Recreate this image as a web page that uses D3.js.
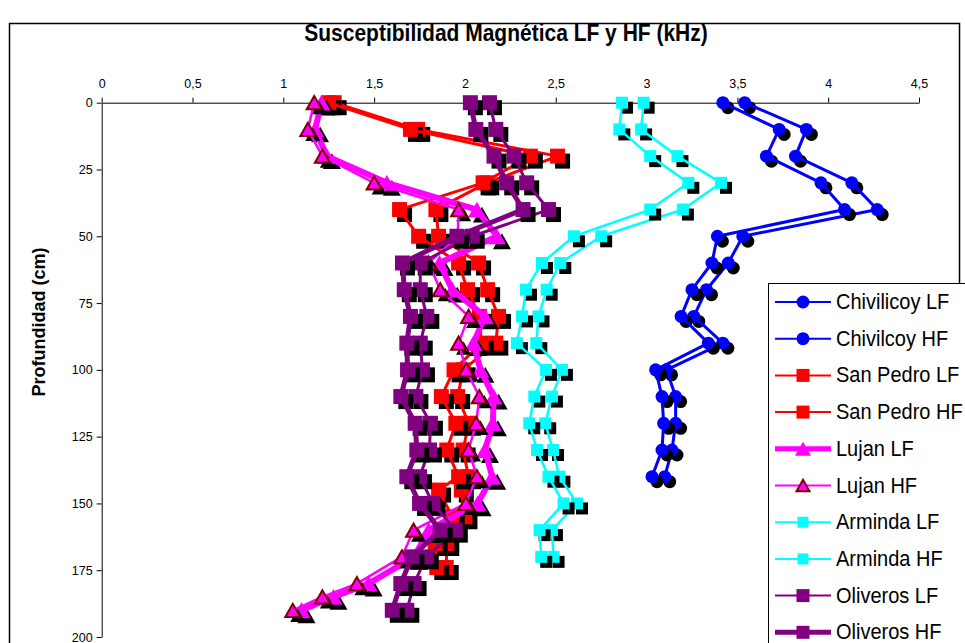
<!DOCTYPE html>
<html>
<head>
<meta charset="utf-8">
<script src="https://cdn.jsdelivr.net/npm/d3@7"></script>
<style>
  body { margin: 0; background: #fff; }
  svg { display: block; font-family: "Liberation Sans", Arial, sans-serif; }
</style>
</head>
<body>
<script>
// depths in cm for each site
var depthChiv = [0,10,20,30,40,50,60,70,80,90,100,110,120,130,140];
var depthSanPedro = [0,10,20,30,40,50,60,70,80,90,100,110,120,130,140,145,155,165,174];
var depthLujan = [0,10,20,30,40,50,60,70,80,90,100,110,120,130,140,150,160,170,180,185,190];
var depthArminda = [0,10,20,30,40,50,60,70,80,90,100,110,120,130,140,150,160,170];
var depthOliveros = [0,10,20,30,40,50,60,70,80,90,100,110,120,130,140,150,160,170,180,190];

// susceptibility values
var chivLF = [3.54,3.88,3.82,4.13,4.27,3.53,3.45,3.33,3.26,3.42,3.11,3.16,3.16,3.14,3.10];
var chivHF = [3.42,3.73,3.66,3.96,4.09,3.39,3.36,3.25,3.19,3.34,3.05,3.085,3.094,3.085,3.03];
var sanPedroLF = [1.28,1.74,2.51,2.12,1.84,1.855,2.075,2.125,2.185,2.17,1.99,1.96,2.02,1.99,2.02,1.98,2.0,1.90,1.897];
var sanPedroHF = [1.25,1.70,2.36,2.10,1.64,1.745,1.965,2.014,2.08,2.09,1.94,1.87,1.95,1.90,1.965,1.855,1.93,1.836,1.845];
var lujanLF = [1.21,1.175,1.24,1.57,2.066,2.176,1.86,1.93,2.11,2.047,2.085,2.158,2.154,2.11,2.15,2.07,1.80,1.72,1.47,1.276,1.10];
var lujanHF = [1.17,1.135,1.215,1.50,1.965,1.96,1.80,1.864,2.02,1.965,2.007,2.079,2.062,2.02,2.066,2.005,1.717,1.653,1.405,1.215,1.052];
var armindaLF = [2.984,2.97,3.17,3.41,3.20,2.75,2.525,2.45,2.405,2.393,2.534,2.479,2.442,2.485,2.52,2.617,2.479,2.488];
var armindaHF = [2.865,2.85,3.02,3.23,3.02,2.60,2.424,2.336,2.314,2.286,2.446,2.382,2.354,2.397,2.46,2.543,2.411,2.42];
var oliverosLF = [2.135,2.17,2.27,2.34,2.46,2.04,1.754,1.754,1.79,1.754,1.766,1.73,1.81,1.805,1.75,1.824,1.947,1.787,1.72,1.68];
var oliverosHF = [2.03,2.06,2.16,2.23,2.32,1.956,1.656,1.666,1.70,1.68,1.684,1.647,1.726,1.735,1.68,1.75,1.864,1.708,1.647,1.60];

var xTicks = [0,0.5,1,1.5,2,2.5,3,3.5,4,4.5];
var yTicks = [0,25,50,75,100,125,150,175,200];

var series = [
  {name:"Chivilicoy LF", depth:depthChiv, vals:chivLF, color:"#0000ff", lw:3, mark:"circle", size:13, edge:"#0000ff", legLw:2},
  {name:"Chivilcoy HF", depth:depthChiv, vals:chivHF, color:"#0000ff", lw:3, mark:"circle", size:13, edge:"#0000ff", legLw:2},
  {name:"San Pedro LF", depth:depthSanPedro, vals:sanPedroLF, color:"#ff0000", lw:3, mark:"square", size:15, edge:"#ff0000", legLw:2},
  {name:"San Pedro HF", depth:depthSanPedro, vals:sanPedroHF, color:"#ff0000", lw:3, mark:"square", size:15, edge:"#ff0000", legLw:2},
  {name:"Lujan LF", depth:depthLujan, vals:lujanLF, color:"#ff00ff", lw:6, mark:"tri", size:18, edge:"#ff00ff", legLw:5},
  {name:"Lujan HF", depth:depthLujan, vals:lujanHF, color:"#ff00ff", lw:2.5, mark:"tri", size:15, edge:"#800000", legLw:2},
  {name:"Arminda LF", depth:depthArminda, vals:armindaLF, color:"#00ffff", lw:2.5, mark:"square", size:12, edge:"#00ffff", legLw:2},
  {name:"Arminda HF", depth:depthArminda, vals:armindaHF, color:"#00ffff", lw:2.5, mark:"square", size:12, edge:"#00ffff", legLw:2},
  {name:"Oliveros LF", depth:depthOliveros, vals:oliverosLF, color:"#800080", lw:3, mark:"square", size:15, edge:"#800080", legLw:2},
  {name:"Oliveros HF", depth:depthOliveros, vals:oliverosHF, color:"#800080", lw:5, mark:"square", size:15, edge:"#800080", legLw:5}
];

var svg = d3.select("body").append("svg").attr("width", 965).attr("height", 643);

// chart border
svg.append("rect")
  .attr("x", 9.5).attr("y", 23.5).attr("width", 950).attr("height", 700)
  .attr("fill", "white").attr("stroke", "black").attr("stroke-width", 1.5);

var x = d3.scaleLinear().domain([0, 4.5]).range([101.7, 919]);
var y = d3.scaleLinear().domain([0, 200]).range([102.7, 637]);

function markerPath(type, s) {
  if (type == "circle") return d3.symbol(d3.symbolCircle, Math.PI * s * s / 4)();
  if (type == "square") return d3.symbol(d3.symbolSquare, s * s)();
  var h = s * 0.88;
  return "M0," + (-h / 2) + "L" + (s / 2) + "," + (h / 2) + "L" + (-s / 2) + "," + (h / 2) + "Z";
}

// text in the original is slightly stretched vertically
svg.append("text")
  .attr("transform", "translate(506,41) scale(1,1.12)")
  .attr("text-anchor", "middle")
  .attr("font-size", 21).attr("font-weight", "bold")
  .text("Susceptibilidad Magnética LF y HF (kHz)");

svg.append("text")
  .attr("transform", "translate(45,322) rotate(-90)")
  .attr("text-anchor", "middle")
  .attr("font-size", 18).attr("font-weight", "bold")
  .text("Profundidad (cm)");

// axes
svg.append("g").attr("transform", "translate(0," + y(0) + ")")
  .call(d3.axisTop(x).tickValues(xTicks).tickSize(5).tickSizeOuter(0).tickPadding(10)
    .tickFormat(function(d){ return String(d).replace(".", ","); }));
svg.append("g").attr("transform", "translate(" + x(0) + ",0)")
  .call(d3.axisLeft(y).tickValues(yTicks).tickSize(5).tickSizeOuter(0).tickPadding(4));
svg.selectAll(".tick text").attr("font-size", 12.5).attr("font-family", "Liberation Sans, Arial, sans-serif").attr("fill", "black");
svg.selectAll(".domain, .tick line").attr("stroke", "black");

var line = d3.line()
  .x(function(d){ return x(d[1]); })
  .y(function(d){ return y(d[0]); });

series.forEach(function(s) {
  var pts = s.depth.map(function(dp, i){ return [dp, s.vals[i]]; });
  var g = svg.append("g");
  // marker shadows
  g.selectAll("path.shadow")
    .data(pts)
    .enter().append("path")
      .attr("class", "shadow")
      .attr("d", markerPath(s.mark, s.size))
      .attr("transform", function(d){ return "translate(" + (x(d[1]) + 5) + "," + (y(d[0]) + 5) + ")"; })
      .attr("fill", "black");
  g.append("path")
    .attr("d", line(pts))
    .attr("fill", "none")
    .attr("stroke", s.color)
    .attr("stroke-width", s.lw)
    .attr("stroke-linejoin", "round");
  g.selectAll("path.mark")
    .data(pts)
    .enter().append("path")
      .attr("class", "mark")
      .attr("d", markerPath(s.mark, s.size))
      .attr("transform", function(d){ return "translate(" + x(d[1]) + "," + y(d[0]) + ")"; })
      .attr("fill", s.color)
      .attr("stroke", s.edge)
      .attr("stroke-width", s.edge == s.color ? 0 : 2);
});

// legend (runs off the right and bottom edge, as in the original)
var leg = svg.append("g");
leg.append("rect")
  .attr("x", 768.5).attr("y", 283.5).attr("width", 300).attr("height", 400)
  .attr("fill", "white").attr("stroke", "black").attr("stroke-width", 1);

var items = leg.selectAll("g.item")
  .data(series)
  .enter().append("g")
    .attr("class", "item")
    .attr("transform", function(d, i){ return "translate(0," + (302 + i * 36.7) + ")"; });
items.append("line")
  .attr("x1", 775).attr("x2", 831).attr("y1", 0).attr("y2", 0)
  .attr("stroke", function(d){ return d.color; })
  .attr("stroke-width", function(d){ return d.legLw; });
items.append("path")
  .attr("d", function(d){ return markerPath(d.mark, d.mark == "square" && d.size < 13 ? 11 : (d.mark == "tri" ? d.size - 2 : 13)); })
  .attr("transform", "translate(803,0)")
  .attr("fill", function(d){ return d.color; })
  .attr("stroke", function(d){ return d.edge; })
  .attr("stroke-width", function(d){ return d.edge == d.color ? 0 : 2; });
items.append("text")
  .attr("transform", "translate(836,7) scale(1,1.08)")
  .attr("font-size", 20)
  .text(function(d){ return d.name; });
</script>
</body>
</html>
